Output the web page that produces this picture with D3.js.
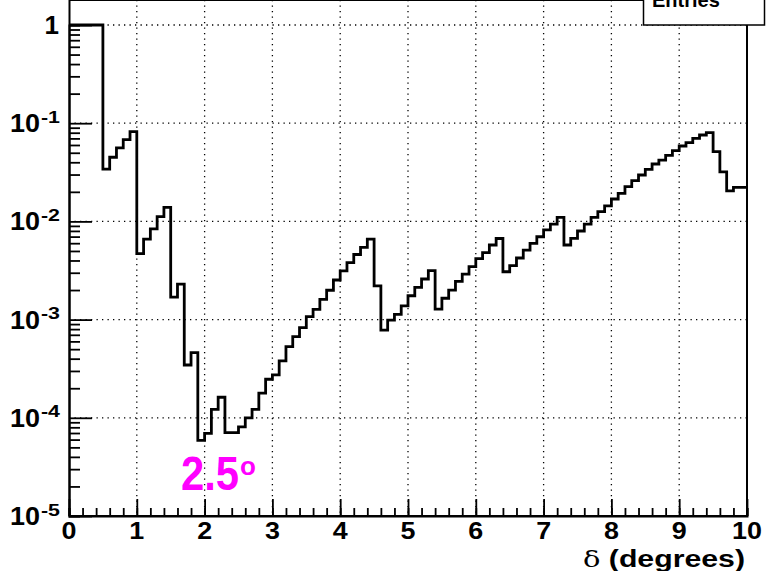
<!DOCTYPE html>
<html><head><meta charset="utf-8">
<script src="https://cdn.jsdelivr.net/npm/d3@7"></script>
<style>
html,body{margin:0;padding:0;background:#fff;}
svg{display:block;font-family:"Liberation Sans",Arial,Helvetica,sans-serif;}
</style></head>
<body><svg id="c" width="766" height="571"></svg>
<script>
// ---- data ----
const binStart = 0, binWidth = 0.1;
const counts = [
 1,1,1,1,1, 0.034,0.045,0.056,0.068,0.082,
 0.0047,0.0066,0.0084,0.0112,0.0139, 0.00169,0.0023,0.000345,0.00046,5.9e-5,
 6.95e-5,1.22e-4,1.62e-4,7.05e-5,7.05e-5, 8.1e-5,1.0e-4,1.22e-4,1.78e-4,2.47e-4,
 2.73e-4,3.8e-4,5.3e-4,6.7e-4,8.3e-4, 1.07e-3,1.27e-3,1.61e-3,1.99e-3,2.53e-3,
 3.13e-3,3.8e-3,4.6e-3,5.45e-3,6.6e-3, 2.2e-3,7.8e-4,9.9e-4,1.13e-3,1.38e-3,
 1.75e-3,2.13e-3,2.59e-3,3.15e-3,1.28e-3, 1.65e-3,2.0e-3,2.45e-3,2.9e-3,3.46e-3,
 4.17e-3,4.8e-3,5.75e-3,6.7e-3,3.07e-3, 3.54e-3,4.24e-3,5.1e-3,5.98e-3,6.98e-3,
 8.2e-3,9.4e-3,1.1e-2,5.75e-3,6.73e-3, 7.98e-3,9.4e-3,1.1e-2,1.26e-2,1.44e-2,
 1.69e-2,1.93e-2,2.26e-2,2.6e-2,2.97e-2, 3.39e-2,3.84e-2,4.2e-2,4.7e-2,5.25e-2,
 5.86e-2,6.33e-2,7.0e-2,7.58e-2,8.0e-2, 5.13e-2,3.2e-2,2.05e-2,2.22e-2,2.22e-2
];
const xTicks = [0,1,2,3,4,5,6,7,8,9,10];
const xMinor = d3.range(0,10.01,0.2);
const yExponents = [0,-1,-2,-3,-4,-5];
const xTitle = ["δ", " (degrees)"];
const annotation = "2.5";
const statsLabel = "Entries";

// ---- layout ----
const L = 69, R = 747, B = 516, T = 0;
const x = d3.scaleLinear().domain([0,10]).range([L,R]);
const y = d3.scaleLog().domain([1e-5,1]).range([B,25]);

const svg = d3.select("#c");

// grid
const majorsY = yExponents.map(e => Math.pow(10,e));
svg.append("g").selectAll("line").data(majorsY.filter(v=>v>1e-5)).join("line")
  .attr("x1",L).attr("x2",R).attr("y1",d=>y(d)).attr("y2",d=>y(d))
  .attr("stroke","#000").attr("stroke-width",1.3).attr("stroke-dasharray","1.3,4.2");
svg.append("g").selectAll("line").data(xTicks.filter(v=>v>0&&v<10)).join("line")
  .attr("x1",d=>x(d)).attr("x2",d=>x(d)).attr("y1",T).attr("y2",B)
  .attr("stroke","#000").attr("stroke-width",1.3).attr("stroke-dasharray","1.3,4.2");

// histogram step path
const pts = [];
counts.forEach((v,i)=>{
  const x0 = binStart + i*binWidth, x1 = x0 + binWidth;
  pts.push([x(x0), y(v)]); pts.push([x(x1), y(v)]);
});
svg.append("path").attr("d", d3.line()(pts))
  .attr("fill","none").attr("stroke","#000").attr("stroke-width",2.8)
  .attr("stroke-linejoin","miter");

// frame
svg.append("path").attr("d",`M${L},${T}H${R}V${B}`).attr("fill","none")
  .attr("stroke","#000").attr("stroke-width",2);

// axes
const minorsY = [];
for (let e=-5;e<0;e++) for (let m=2;m<=9;m++) minorsY.push(m*Math.pow(10,e));
const gy = svg.append("g").attr("transform",`translate(${L},0)`);
gy.call(d3.axisLeft(y).tickValues(majorsY).tickSize(-23).tickFormat(""));
gy.append("g").call(d3.axisLeft(y).tickValues(minorsY).tickSize(-11).tickFormat(""));
const gx = svg.append("g").attr("transform",`translate(0,${B})`);
gx.call(d3.axisBottom(x).tickValues(xTicks).tickSize(-17).tickFormat(""));
gx.append("g").call(d3.axisBottom(x).tickValues(xMinor).tickSize(-8).tickFormat(""));
svg.selectAll(".domain").attr("stroke","#000").attr("stroke-width",2);
svg.selectAll(".tick line").attr("stroke","#000").attr("stroke-width",1.8);
gy.select(".domain").attr("d",`M0.5,${B}V${T}`);
gx.select(".domain").attr("d",`M${L},0H${R}`);

// y labels
yExponents.forEach(e=>{
  const yy = y(Math.pow(10,e));
  if (e===0) {
    svg.append("text").attr("x",59).attr("y",yy+9).attr("text-anchor","end")
      .attr("font-weight","bold").attr("font-size",26).text("1");
  } else {
    svg.append("text").attr("x",10).attr("y",yy+9)
      .attr("font-weight","bold").attr("font-size",26)
      .attr("textLength",30).attr("lengthAdjust","spacingAndGlyphs").text("10");
    svg.append("text").attr("x",41).attr("y",yy-0.5)
      .attr("font-weight","bold").attr("font-size",17)
      .attr("textLength",19).attr("lengthAdjust","spacingAndGlyphs").text(String(e));
  }
});
// x labels
svg.append("g").selectAll("text").data(xTicks).join("text")
  .attr("transform",d=>`translate(${x(d)},539) scale(1.12,1)`).attr("text-anchor","middle")
  .attr("font-weight","bold").attr("font-size",24).text(d=>d);
// x title
const tt = svg.append("text").attr("x",583).attr("y",567)
  .attr("font-size",23).attr("textLength",162).attr("lengthAdjust","spacingAndGlyphs");
tt.append("tspan").attr("font-family","DejaVu Serif, serif").attr("font-size",22).text(xTitle[0]);
tt.append("tspan").attr("font-weight","bold").text(xTitle[1]);

// annotation
const an = svg.append("text").attr("transform","translate(181,490) scale(0.87,1)")
  .attr("fill","#ff00ff").attr("font-weight","bold").attr("font-size",48);
an.append("tspan").text(annotation);
svg.append("text").attr("x",240).attr("y",475).attr("fill","#ff00ff")
  .attr("font-weight","bold").attr("font-size",26).text("o");

// stats box
svg.append("rect").attr("x",643.5).attr("y",-20).attr("width",121).attr("height",45)
  .attr("fill","#fff").attr("stroke","#000").attr("stroke-width",1.5);
svg.append("text").attr("x",652).attr("y",7).attr("font-weight","bold")
  .attr("font-size",20).text(statsLabel);
</script></body></html>
